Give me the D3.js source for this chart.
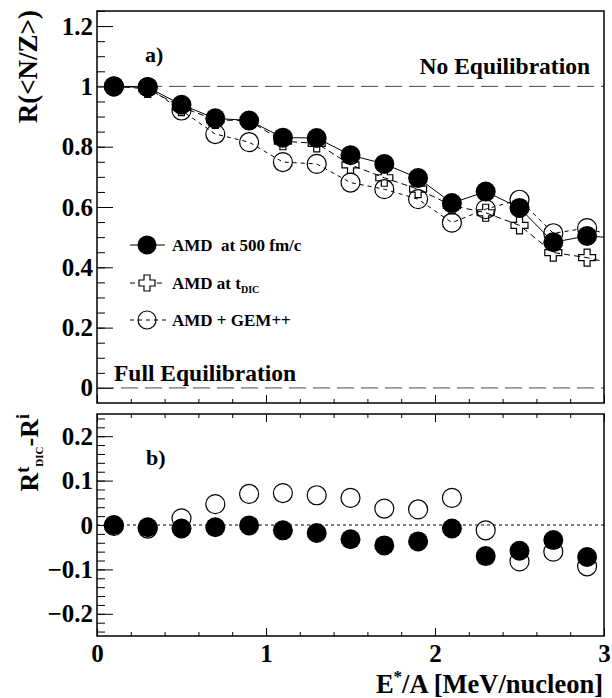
<!DOCTYPE html>
<html>
<head>
<meta charset="utf-8">
<script src="https://cdn.jsdelivr.net/npm/d3@7"></script>
<style>
  body { margin: 0; background: #fff; }
  svg text { font-family: "Liberation Serif", "Times New Roman", serif; font-weight: bold; fill: #000; }
</style>
</head>
<body>
<div id="chart"></div>
<script>
// excitation energy per nucleon (MeV/nucleon)
const energy = [0.1, 0.3, 0.5, 0.7, 0.9, 1.1, 1.3, 1.5, 1.7, 1.9, 2.1, 2.3, 2.5, 2.7, 2.9];

// panel a) : R(<N/Z>)  (last value sits just outside the frame, lines run to the edge)
const energyTop = [0.1, 0.3, 0.5, 0.7, 0.9, 1.1, 1.3, 1.5, 1.7, 1.9, 2.1, 2.3, 2.5, 2.7, 2.9, 3.1];
const r500 = [1.0, 0.997, 0.939, 0.894, 0.887, 0.830, 0.829, 0.772, 0.743, 0.696, 0.613, 0.651, 0.597, 0.483, 0.504, 0.496];
const rTdic = [1.0, 0.992, 0.931, 0.889, 0.886, 0.818, 0.811, 0.740, 0.697, 0.659, 0.605, 0.581, 0.539, 0.449, 0.432, 0.406];
const rGem = [1.0, 0.998, 0.920, 0.842, 0.815, 0.749, 0.743, 0.681, 0.659, 0.626, 0.548, 0.593, 0.624, 0.513, 0.530, 0.496];

// panel b) : R^tDIC - R^i
const diff500 = [0.0, -0.005, -0.008, -0.005, -0.001, -0.012, -0.018, -0.032, -0.046, -0.037, -0.008, -0.070, -0.058, -0.034, -0.072];
const diffGem = [-0.002, -0.008, 0.015, 0.047, 0.070, 0.072, 0.067, 0.061, 0.037, 0.035, 0.061, -0.012, -0.082, -0.060, -0.093];

// ticks
const xTicks = [0, 1, 2, 3];
const xTickLabels = ["0", "1", "2", "3"];
const yTopTicks = [0, 0.2, 0.4, 0.6, 0.8, 1, 1.2];
const yTopTickLabels = ["0", "0.2", "0.4", "0.6", "0.8", "1", "1.2"];
const yBotTicks = [-0.2, -0.1, 0, 0.1, 0.2];
const yBotTickLabels = ["\u22120.2", "\u22120.1", "0", "0.1", "0.2"];

const legendLabels = ["AMD  at 500 fm/c", "AMD at t", "AMD + GEM++"];

const width = 612, height = 698;
const svg = d3.select("#chart").append("svg")
  .attr("width", width)
  .attr("height", height);

const x = d3.scaleLinear().domain([0, 3]).range([97, 604]);
const yTop = d3.scaleLinear().domain([-0.05, 1.25]).range([403, 11]);
const yBot = d3.scaleLinear().domain([-0.25, 0.25]).range([636, 414]);

svg.append("clipPath").attr("id", "clip-top")
  .append("rect")
  .attr("x", x(0)).attr("y", yTop(1.25))
  .attr("width", x(3) - x(0)).attr("height", yTop(-0.05) - yTop(1.25));

// plus-shaped open marker
const crossPath = (a, L) =>
  `M${-a},${-L}H${a}V${-a}H${L}V${a}H${a}V${L}H${-a}V${a}H${-L}V${-a}H${-a}Z`;

const zip = (xs, vs) => xs.map((e, i) => ({ e: e, v: vs[i] }));

// ---------- axes ----------
function leftAxis(scale, major, labels, minor) {
  svg.append("g")
    .attr("transform", `translate(${x(0)},0)`)
    .call(d3.axisLeft(scale).tickValues(minor).tickSize(-8).tickFormat(""))
    .call(g => g.select(".domain").remove());

  svg.append("g")
    .attr("transform", `translate(${x(0)},0)`)
    .call(d3.axisLeft(scale).tickValues(major).tickSize(-16).tickPadding(4)
      .tickFormat((d, i) => labels[i]))
    .attr("font-size", 25)
    .call(g => g.select(".domain").remove());
}

function xAxis(y0, withLabels, onTop) {
  const axis = onTop ? d3.axisTop : d3.axisBottom;
  svg.append("g")
    .attr("transform", `translate(0,${y0})`)
    .call(axis(x).tickValues(d3.range(0, 16).map(i => i * 0.2)).tickSize(-4).tickFormat(""))
    .call(g => g.select(".domain").remove());

  svg.append("g")
    .attr("transform", `translate(0,${y0})`)
    .call(axis(x).tickValues(xTicks).tickSize(-8).tickPadding(8)
      .tickFormat((d, i) => withLabels ? xTickLabels[i] : ""))
    .attr("font-size", 25)
    .call(g => g.select(".domain").remove());
}

leftAxis(yTop, yTopTicks, yTopTickLabels, d3.range(0, 26).map(i => i * 0.05));
xAxis(yTop(-0.05), false, false);

leftAxis(yBot, yBotTicks, yBotTickLabels, d3.range(-12, 13).map(i => i * 0.02));
xAxis(yBot(-0.25), true, false);
xAxis(yBot(0.25), false, true);

// ---------- panel a ----------
const panelA = svg.append("g");

[1, 0].forEach(v => {
  panelA.append("line")
    .attr("x1", x(0)).attr("x2", x(3))
    .attr("y1", yTop(v)).attr("y2", yTop(v))
    .attr("stroke", "#444")
    .attr("stroke-width", 1)
    .attr("stroke-dasharray", "17,7");
});

const line = d3.line()
  .x(d => x(d.e))
  .y(d => yTop(d.v));

const plot = panelA.append("g").attr("clip-path", "url(#clip-top)");

// AMD + GEM++
plot.append("path")
  .attr("d", line(zip(energyTop, rGem)))
  .attr("fill", "none").attr("stroke", "#000").attr("stroke-width", 1)
  .attr("stroke-dasharray", "4,4");
plot.selectAll("circle.gem")
  .data(zip(energyTop, rGem))
  .enter().append("circle")
  .attr("class", "gem")
  .attr("cx", d => x(d.e)).attr("cy", d => yTop(d.v))
  .attr("r", 9.5)
  .attr("fill", "none").attr("stroke", "#000").attr("stroke-width", 1.2);

// AMD at tDIC
plot.append("path")
  .attr("d", line(zip(energyTop, rTdic)))
  .attr("fill", "none").attr("stroke", "#000").attr("stroke-width", 1)
  .attr("stroke-dasharray", "6,4");
plot.selectAll("path.cross")
  .data(zip(energyTop, rTdic))
  .enter().append("path")
  .attr("class", "cross")
  .attr("transform", d => `translate(${x(d.e)},${yTop(d.v)})`)
  .attr("d", crossPath(3, 8.5))
  .attr("fill", "none").attr("stroke", "#000").attr("stroke-width", 1.2);

// AMD at 500 fm/c
plot.append("path")
  .attr("d", line(zip(energyTop, r500)))
  .attr("fill", "none").attr("stroke", "#000").attr("stroke-width", 1);
plot.selectAll("circle.amd")
  .data(zip(energyTop, r500))
  .enter().append("circle")
  .attr("class", "amd")
  .attr("cx", d => x(d.e)).attr("cy", d => yTop(d.v))
  .attr("r", 10)
  .attr("fill", "#000");

panelA.append("text")
  .attr("x", 145).attr("y", 62)
  .attr("font-size", 22)
  .text("a)");

panelA.append("text")
  .attr("x", 590).attr("y", 74)
  .attr("text-anchor", "end")
  .attr("font-size", 23.5)
  .text("No Equilibration");

panelA.append("text")
  .attr("x", 114).attr("y", 381)
  .attr("font-size", 23.5)
  .text("Full Equilibration");

// legend
const legendY = [245, 283, 320];
const legend = panelA.append("g");

legend.append("line")
  .attr("x1", 130).attr("x2", 165).attr("y1", legendY[0]).attr("y2", legendY[0])
  .attr("stroke", "#000");
legend.append("circle")
  .attr("cx", 147).attr("cy", legendY[0]).attr("r", 9.5).attr("fill", "#000");

legend.append("line")
  .attr("x1", 130).attr("x2", 166).attr("y1", legendY[1]).attr("y2", legendY[1])
  .attr("stroke", "#000").attr("stroke-dasharray", "5,4");
legend.append("path")
  .attr("transform", `translate(147,${legendY[1]})`)
  .attr("d", crossPath(3, 8))
  .attr("fill", "#fff").attr("stroke", "#000").attr("stroke-width", 1.2);

legend.append("line")
  .attr("x1", 130).attr("x2", 166).attr("y1", legendY[2]).attr("y2", legendY[2])
  .attr("stroke", "#000").attr("stroke-dasharray", "4,4");
legend.append("circle")
  .attr("cx", 147).attr("cy", legendY[2]).attr("r", 9)
  .attr("fill", "none").attr("stroke", "#000").attr("stroke-width", 1.2);

legend.selectAll("text")
  .data(legendLabels)
  .enter().append("text")
  .attr("x", 172)
  .attr("y", (d, i) => legendY[i] + 6)
  .attr("font-size", 17)
  .style("white-space", "pre")
  .text(d => d);

legend.selectAll("text")
  .filter((d, i) => i === 1)
  .append("tspan")
  .attr("font-size", 10)
  .attr("dy", 4)
  .text("DIC");

// ---------- panel b ----------
const panelB = svg.append("g");

panelB.append("line")
  .attr("x1", x(0)).attr("x2", x(3))
  .attr("y1", yBot(0)).attr("y2", yBot(0))
  .attr("stroke", "#000")
  .attr("stroke-width", 1)
  .attr("stroke-dasharray", "3,3");

panelB.selectAll("circle.gem")
  .data(zip(energy, diffGem))
  .enter().append("circle")
  .attr("class", "gem")
  .attr("cx", d => x(d.e)).attr("cy", d => yBot(d.v))
  .attr("r", 9.5)
  .attr("fill", "none").attr("stroke", "#000").attr("stroke-width", 1.2);

panelB.selectAll("circle.amd")
  .data(zip(energy, diff500))
  .enter().append("circle")
  .attr("class", "amd")
  .attr("cx", d => x(d.e)).attr("cy", d => yBot(d.v))
  .attr("r", 10)
  .attr("fill", "#000");

panelB.append("text")
  .attr("x", 146).attr("y", 465)
  .attr("font-size", 22)
  .text("b)");

// ---------- frames ----------
[[yTop(1.25), yTop(-0.05)], [yBot(0.25), yBot(-0.25)]].forEach(([y1, y2]) => {
  svg.append("rect")
    .attr("x", x(0)).attr("y", y1)
    .attr("width", x(3) - x(0)).attr("height", y2 - y1)
    .attr("fill", "none")
    .attr("stroke", "#000")
    .attr("stroke-width", 1.5);
});

// ---------- titles ----------
svg.append("text")
  .attr("transform", "translate(37,10) rotate(-90)")
  .attr("text-anchor", "end")
  .attr("font-size", 27)
  .text("R(<N/Z>)");

const yb = svg.append("text")
  .attr("transform", "translate(38,414) rotate(-90)")
  .attr("text-anchor", "end")
  .attr("font-size", 26);
yb.append("tspan").text("R");
yb.append("tspan").attr("font-size", 18).attr("dy", -9).text("t");
yb.append("tspan").attr("font-size", 11).attr("dy", 14).text("DIC");
yb.append("tspan").attr("dy", -5).text("-R");
yb.append("tspan").attr("font-size", 18).attr("dy", -9).text("i");

const xt = svg.append("text")
  .attr("x", 603).attr("y", 693)
  .attr("text-anchor", "end")
  .attr("font-size", 26.5);
xt.append("tspan").text("E");
xt.append("tspan").attr("font-size", 17).attr("dy", -11).text("*");
xt.append("tspan").attr("dy", 11).text("/A [MeV/nucleon]");
</script>
</body>
</html>
